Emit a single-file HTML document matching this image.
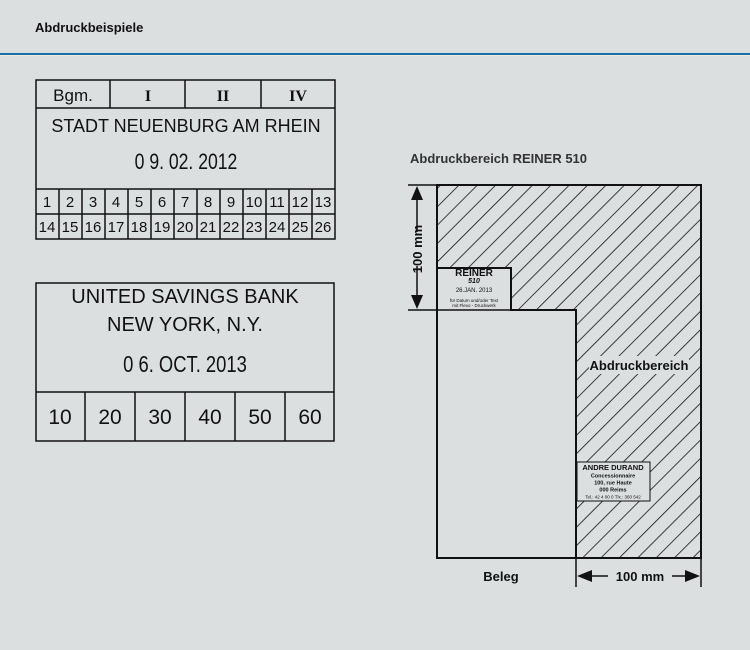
<!DOCTYPE html>
<html><head><meta charset="utf-8"><style>
html,body{margin:0;padding:0;background:#dcdfe0;}
svg{display:block;font-family:"Liberation Sans",sans-serif;}
</style></head><body>
<svg width="750" height="650" viewBox="0 0 750 650" xmlns="http://www.w3.org/2000/svg">
<defs>
<pattern id="h" patternUnits="userSpaceOnUse" width="13" height="13" patternTransform="rotate(45)">
<rect width="13" height="13" fill="#dcdfe0"/>
<line x1="0" y1="0" x2="0" y2="13" stroke="#111" stroke-width="1.6"/>
</pattern>
</defs>
<rect width="750" height="650" fill="#dcdfe0"/>
<text x="35" y="32" font-size="13" font-weight="bold" fill="#111">Abdruckbeispiele</text>
<rect x="0" y="53" width="750" height="2" fill="#1a6ea8"/>
<rect x="0" y="55" width="750" height="1" fill="#eeeae0"/>

<!-- Stamp 1 -->
<g stroke="#111" stroke-width="1.5" fill="none">
<rect x="36" y="80" width="299" height="159"/>
<line x1="36" y1="108" x2="335" y2="108"/>
<line x1="110" y1="80" x2="110" y2="108"/>
<line x1="185" y1="80" x2="185" y2="108"/>
<line x1="261" y1="80" x2="261" y2="108"/>
<line x1="36" y1="189" x2="335" y2="189"/>
<line x1="36" y1="214" x2="335" y2="214"/>
<line x1="59" y1="189" x2="59" y2="239"/><line x1="82" y1="189" x2="82" y2="239"/><line x1="105" y1="189" x2="105" y2="239"/><line x1="128" y1="189" x2="128" y2="239"/><line x1="151" y1="189" x2="151" y2="239"/><line x1="174" y1="189" x2="174" y2="239"/><line x1="197" y1="189" x2="197" y2="239"/><line x1="220" y1="189" x2="220" y2="239"/><line x1="243" y1="189" x2="243" y2="239"/><line x1="266" y1="189" x2="266" y2="239"/><line x1="289" y1="189" x2="289" y2="239"/><line x1="312" y1="189" x2="312" y2="239"/>
</g>
<g fill="#111" text-anchor="middle">
<text x="73" y="101" font-size="17">Bgm.</text>
<text x="148" y="101" font-size="16" font-weight="bold" font-family="Liberation Serif,serif">I</text>
<text x="223" y="101" font-size="16" font-weight="bold" font-family="Liberation Serif,serif">II</text>
<text x="298" y="101" font-size="16" font-weight="bold" font-family="Liberation Serif,serif">IV</text>
<text x="186" y="132" font-size="18">STADT NEUENBURG AM RHEIN</text>
<text x="186" y="169" font-size="22" transform="translate(186 0) scale(0.8 1) translate(-186 0)">0 9.  02.  2012</text>
<g font-size="15">
<text x="47" y="207">1</text><text x="70" y="207">2</text><text x="93" y="207">3</text><text x="116" y="207">4</text><text x="139" y="207">5</text><text x="162" y="207">6</text><text x="185" y="207">7</text><text x="208" y="207">8</text><text x="231" y="207">9</text><text x="254" y="207">10</text><text x="277" y="207">11</text><text x="300" y="207">12</text><text x="323" y="207">13</text>
<text x="47" y="232">14</text><text x="70" y="232">15</text><text x="93" y="232">16</text><text x="116" y="232">17</text><text x="139" y="232">18</text><text x="162" y="232">19</text><text x="185" y="232">20</text><text x="208" y="232">21</text><text x="231" y="232">22</text><text x="254" y="232">23</text><text x="277" y="232">24</text><text x="300" y="232">25</text><text x="323" y="232">26</text>
</g>
</g>

<!-- Stamp 2 -->
<g stroke="#111" stroke-width="1.5" fill="none">
<rect x="36" y="283" width="298" height="158"/>
<line x1="36" y1="392" x2="334" y2="392"/>
<line x1="85" y1="392" x2="85" y2="441"/><line x1="135" y1="392" x2="135" y2="441"/><line x1="185" y1="392" x2="185" y2="441"/><line x1="235" y1="392" x2="235" y2="441"/><line x1="285" y1="392" x2="285" y2="441"/>
</g>
<g fill="#111" text-anchor="middle">
<text x="185" y="303" font-size="20">UNITED SAVINGS BANK</text>
<text x="185" y="331" font-size="20">NEW YORK, N.Y.</text>
<text x="185" y="372" font-size="23" transform="translate(185 0) scale(0.8 1) translate(-185 0)">0 6. OCT. 2013</text>
<g font-size="21">
<text x="60" y="424">10</text><text x="110" y="424">20</text><text x="160" y="424">30</text><text x="210" y="424">40</text><text x="260" y="424">50</text><text x="310" y="424">60</text>
</g>
</g>

<!-- Right diagram -->
<text x="410" y="163" font-size="13" font-weight="bold" fill="#333">Abdruckbereich REINER 510</text>
<path d="M437 185 H701 V558 H576 V310 H511 V268 H437 Z" fill="url(#h)" stroke="#111" stroke-width="2"/>
<path d="M437 268 V558 H576" fill="none" stroke="#111" stroke-width="2"/>
<g stroke="#111" stroke-width="1.5">
<line x1="408" y1="185" x2="437" y2="185"/>
<line x1="408" y1="310" x2="511" y2="310"/>
<line x1="417" y1="195" x2="417" y2="232"/>
<line x1="417" y1="266" x2="417" y2="300"/>
<line x1="576" y1="558" x2="576" y2="587"/>
<line x1="701" y1="558" x2="701" y2="587"/>
<line x1="586" y1="576" x2="608" y2="576"/>
<line x1="672" y1="576" x2="691" y2="576"/>
</g>
<g fill="#111">
<polygon points="417,186 411,200 423,200"/>
<polygon points="417,309 411,295 423,295"/>
<polygon points="577,576 592,570 592,582"/>
<polygon points="700,576 685,570 685,582"/>
</g>
<text x="0" y="0" font-size="13" font-weight="bold" fill="#111" text-anchor="middle" transform="translate(422 249) rotate(-90)">100 mm</text>
<text x="640" y="581" font-size="13" font-weight="bold" fill="#111" text-anchor="middle">100 mm</text>
<text x="501" y="581" font-size="13" font-weight="bold" fill="#111" text-anchor="middle">Beleg</text>
<rect x="589" y="356" width="100" height="18" fill="#dcdfe0"/>
<text x="639" y="370" font-size="13" font-weight="bold" fill="#111" text-anchor="middle">Abdruckbereich</text>
<!-- REINER box -->
<rect x="439" y="269" width="71" height="40" fill="#dcdfe0"/>
<path d="M437 268 H446 M511 268 V310" stroke="#111" stroke-width="1.5" fill="none"/>
<g fill="#111" text-anchor="middle">
<text x="474" y="276" font-size="10" font-weight="900">REINER</text>
<text x="474" y="283" font-size="7" font-weight="bold" font-style="italic">510</text>
<text x="474" y="292" font-size="6">26.JAN. 2013</text>
<text x="474" y="302" font-size="4.5">für Datum und/oder Text</text>
<text x="474" y="307" font-size="4.5">mit Flexo - Druckwerk</text>
</g>
<!-- Andre box -->
<rect x="577" y="462" width="73" height="39" fill="#dcdfe0" stroke="#111" stroke-width="1"/>
<g fill="#111" text-anchor="middle">
<text x="613" y="470" font-size="7.5" font-weight="bold">ANDRE DURAND</text>
<text x="613" y="477.5" font-size="5.5" font-weight="bold">Concessionnaire</text>
<text x="613" y="484.5" font-size="5.5" font-weight="bold">100, rue Haute</text>
<text x="613" y="491.5" font-size="5.5" font-weight="bold">000 Reims</text>
<text x="613" y="498.5" font-size="4.5">Tel.: 42 4 00 0   Tlx.: 360 542</text>
</g>
</svg>
</body></html>
